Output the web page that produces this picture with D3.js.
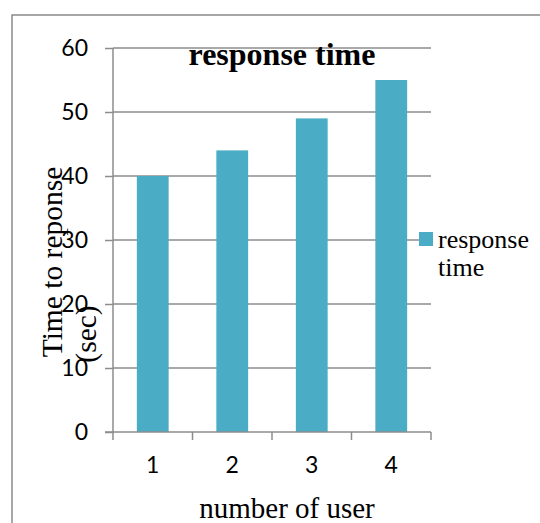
<!DOCTYPE html>
<html>
<head>
<meta charset="utf-8">
<script src="https://cdn.jsdelivr.net/npm/d3@7"></script>
<style>
  html, body { margin: 0; padding: 0; background: #fff; }
  svg { display: block; }
</style>
</head>
<body>
<svg id="chart" width="540" height="523"></svg>
<script>
const categories = ["1", "2", "3", "4"];
const values = [40, 44, 49, 55];
const yTicks = [0, 10, 20, 30, 40, 50, 60];
const seriesName = "response time";
const chartTitle = "response time";
const xTitle = "number of user";
const yTitleLines = ["Time to reponse", "(sec)"];

(function () {
const svg = d3.select("#chart");
const gridColor = "#8c8c8c";
const barColor = "#4bacc6";
const numFont = "Lato, 'Open Sans', sans-serif";
const serif = "'Liberation Serif', 'Times New Roman', serif";

// outer frame
svg.append("rect")
  .attr("x", 12).attr("y", 15).attr("width", 600).attr("height", 600)
  .attr("fill", "none").attr("stroke", "#8a8a8a").attr("stroke-width", 1.5);

const pLeft = 113, pRight = 431, pTop = 48, pBottom = 432;

const x = d3.scaleBand().domain(categories).range([pLeft, pRight])
  .paddingInner(0.6).paddingOuter(0.3);
const y = d3.scaleLinear().domain([0, 60]).range([pBottom, pTop]);

// gridlines
svg.append("g").selectAll("line").data(yTicks.filter(d => d > 0)).join("line")
  .attr("x1", pLeft).attr("x2", pRight)
  .attr("y1", d => y(d)).attr("y2", d => y(d))
  .attr("stroke", gridColor).attr("stroke-width", 1.5);

// bars
svg.append("g").selectAll("rect").data(values).join("rect")
  .attr("x", (d, i) => x(categories[i]))
  .attr("y", d => y(d))
  .attr("width", x.bandwidth())
  .attr("height", d => y(0) - y(d))
  .attr("fill", barColor);

// y axis
const yAxis = svg.append("g").attr("transform", `translate(${pLeft},0)`)
  .call(d3.axisLeft(y).tickValues(yTicks).tickSize(8).tickPadding(17));
yAxis.selectAll("path, line").attr("stroke", gridColor).attr("stroke-width", 1.5);
yAxis.select(".domain").attr("d", `M0,${pTop}V${pBottom}`);
yAxis.selectAll("text").attr("font-family", numFont).attr("font-size", 23).attr("fill", "#000");

// x axis labels
const xAxis = svg.append("g").attr("transform", `translate(0,${pBottom})`)
  .call(d3.axisBottom(x).tickSize(0).tickPadding(25));
xAxis.select(".domain").remove();
xAxis.selectAll("text").attr("font-family", numFont).attr("font-size", 23).attr("fill", "#000");

// x axis line and boundary ticks
const step = x.step();
const bounds = categories.map(c => x(c) - step * x.paddingInner() / 2).concat([pRight]);
svg.append("line").attr("x1", pLeft - 8).attr("x2", pRight)
  .attr("y1", pBottom).attr("y2", pBottom)
  .attr("stroke", gridColor).attr("stroke-width", 1.5);
svg.append("g").selectAll("line").data(bounds).join("line")
  .attr("x1", d => d).attr("x2", d => d)
  .attr("y1", pBottom).attr("y2", pBottom + 8)
  .attr("stroke", gridColor).attr("stroke-width", 1.5);

// title
svg.append("text").attr("x", 282).attr("y", 65)
  .attr("text-anchor", "middle").attr("font-family", serif)
  .attr("font-weight", "bold").attr("font-size", 32).attr("fill", "#000")
  .text(chartTitle);

// x title
svg.append("text").attr("x", 287).attr("y", 518)
  .attr("text-anchor", "middle").attr("font-family", serif)
  .attr("font-size", 29).attr("fill", "#000")
  .text(xTitle);

// y title (two lines)
const yTitlePos = [[62, 262], [96, 334]];
yTitleLines.forEach((t, i) => {
  svg.append("text")
    .attr("transform", `translate(${yTitlePos[i][0]},${yTitlePos[i][1]}) rotate(-90)`)
    .attr("text-anchor", "middle").attr("font-family", serif)
    .attr("font-size", 29.5).attr("fill", "#000")
    .text(t);
});

// legend
svg.append("rect").attr("x", 419).attr("y", 232).attr("width", 14).attr("height", 14)
  .attr("fill", barColor);
const legendLines = seriesName.split(" ");
legendLines.forEach((t, i) => {
  svg.append("text").attr("x", 438).attr("y", 248 + i * 28)
    .attr("font-family", serif).attr("font-size", 26).attr("fill", "#000")
    .text(t);
});
})();
</script>
</body>
</html>
